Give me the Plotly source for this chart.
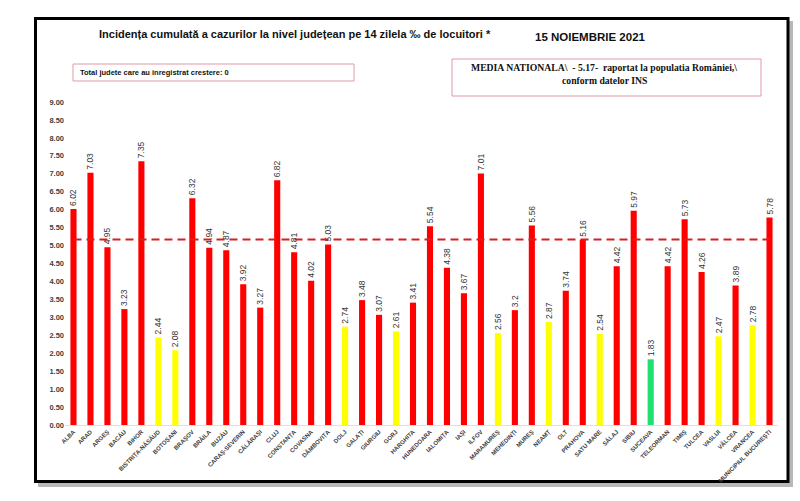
import plotly.graph_objects as go

judete = ["ALBA", "ARAD", "ARGEȘ", "BACĂU", "BIHOR", "BISTRIȚA-NĂSĂUD", "BOTOȘANI", "BRAȘOV",
          "BRĂILA", "BUZĂU", "CARAȘ-SEVERIN", "CĂLĂRAȘI", "CLUJ", "CONSTANȚA", "COVASNA",
          "DÂMBOVIȚA", "DOLJ", "GALAȚI", "GIURGIU", "GORJ", "HARGHITA", "HUNEDOARA", "IALOMIȚA",
          "IAȘI", "ILFOV", "MARAMUREȘ", "MEHEDINȚI", "MUREȘ", "NEAMȚ", "OLT", "PRAHOVA",
          "SATU MARE", "SĂLAJ", "SIBIU", "SUCEAVA", "TELEORMAN", "TIMIȘ", "TULCEA", "VASLUI",
          "VÂLCEA", "VRANCEA", "MUNICIPIUL BUCUREȘTI"]
incidenta = [6.02, 7.03, 4.95, 3.23, 7.35, 2.44, 2.08, 6.32, 4.94, 4.87, 3.92, 3.27, 6.82, 4.81,
             4.02, 5.03, 2.74, 3.48, 3.07, 2.61, 3.41, 5.54, 4.38, 3.67, 7.01, 2.56, 3.2, 5.56,
             2.87, 3.74, 5.16, 2.54, 4.42, 5.97, 1.83, 4.42, 5.73, 4.26, 2.47, 3.89, 2.78, 5.78]
media_nationala = 5.17
y_ticks = [i * 0.5 for i in range(19)]

def culoare(v):
    if v < 2.0:
        return "#1fe070"
    if v < 3.0:
        return "#ffff00"
    return "#ff0000"

colors = [culoare(v) for v in incidenta]
labels = [("%g" % v) if v == 3.2 else "%.2f" % v for v in incidenta]

W, H = 800, 501
L, R, T, B = 65, 22, 102, 76
PW, PH = W - L - R, H - T - B

def px(x):
    return (x - L) / PW

def py(y):
    return (H - B - y) / PH

fig = go.Figure()
fig.add_trace(go.Bar(
    x=judete, y=incidenta, marker_color=colors, marker_line_width=0,
    text=labels, textposition="outside", textangle=-90, constraintext="none",
    cliponaxis=False,
    textfont=dict(family="Liberation Sans", size=8.5, color="#333333"),
    hoverinfo="x+y"))
fig.add_trace(go.Scatter(
    x=[judete[0], judete[-1]], y=[media_nationala, media_nationala], mode="lines",
    line=dict(color="#d42020", width=2, dash="8px,5px"), hoverinfo="skip"))

shapes = [
    # shadow
    dict(type="rect", xref="paper", yref="paper", x0=px(38), x1=px(793), y0=py(21), y1=py(487),
         fillcolor="#b8b8b8", line_width=0, layer="below"),
    # frame
    dict(type="rect", xref="paper", yref="paper", x0=px(35.5), x1=px(788), y0=py(18.5), y1=py(481.5),
         fillcolor="white", line=dict(color="black", width=3), layer="below"),
    # left box
    dict(type="rect", xref="paper", yref="paper", x0=px(73), x1=px(354), y0=py(64), y1=py(81),
         fillcolor="rgba(0,0,0,0)", line=dict(color="#e09aa4", width=1), layer="below"),
    # right box
    dict(type="rect", xref="paper", yref="paper", x0=px(452), x1=px(761), y0=py(59), y1=py(96),
         fillcolor="rgba(0,0,0,0)", line=dict(color="#e09aa4", width=1), layer="below"),
]

annotations = [
    dict(text="Incidența cumulată a cazurilor la nivel județean pe 14 zilela ‰ de locuitori *",
         x=px(97), y=py(34), xanchor="left", yanchor="middle",
         font=dict(family="Liberation Sans", size=11, color="#111111", weight="bold")),
    dict(text="15 NOIEMBRIE 2021", x=px(590), y=py(37), xanchor="center", yanchor="middle",
         font=dict(family="Liberation Sans", size=11.5, color="#111111", weight="bold")),
    dict(text="Total judete care au inregistrat crestere: 0", x=px(78), y=py(72.5),
         xanchor="left", yanchor="middle",
         font=dict(family="Liberation Sans", size=7.5, color="#111111", weight="bold")),
    dict(text="MEDIA NATIONALA\\  - 5.17-  raportat la populatia României,\\", x=px(604), y=py(68),
         xanchor="center", yanchor="middle",
         font=dict(family="Liberation Serif", size=9.7, color="#111111", weight="bold")),
    dict(text="conform datelor INS", x=px(604), y=py(81), xanchor="center", yanchor="middle",
         font=dict(family="Liberation Serif", size=9.7, color="#111111", weight="bold")),
]
for a in annotations:
    a.update(xref="paper", yref="paper", showarrow=False)

fig.update_layout(
    width=W, height=H, margin=dict(l=L, r=R, t=T, b=B, autoexpand=False),
    paper_bgcolor="white", plot_bgcolor="rgba(0,0,0,0)",
    showlegend=False, bargap=0.64, shapes=shapes, annotations=annotations,
    xaxis=dict(type="category", tickangle=-45, showgrid=False, zeroline=False,
               showline=True, linecolor="#e0e0e0", linewidth=1, ticks="",
               tickfont=dict(family="Liberation Sans", size=6, color="#404040", weight="bold"),
               range=[-0.5, len(judete) - 0.5]),
    yaxis=dict(range=[0, 9], tickvals=y_ticks, ticktext=["%.2f" % v for v in y_ticks],
               showgrid=False, zeroline=False, showline=False, ticks="",
               tickfont=dict(family="Liberation Sans", size=7.5, color="#404040", weight="bold")),
)

fig.write_html("out.html", config={"displayModeBar": False},
               post_script="document.body.style.margin='0';document.body.style.padding='0';"
                           "document.body.style.overflow='hidden';")
